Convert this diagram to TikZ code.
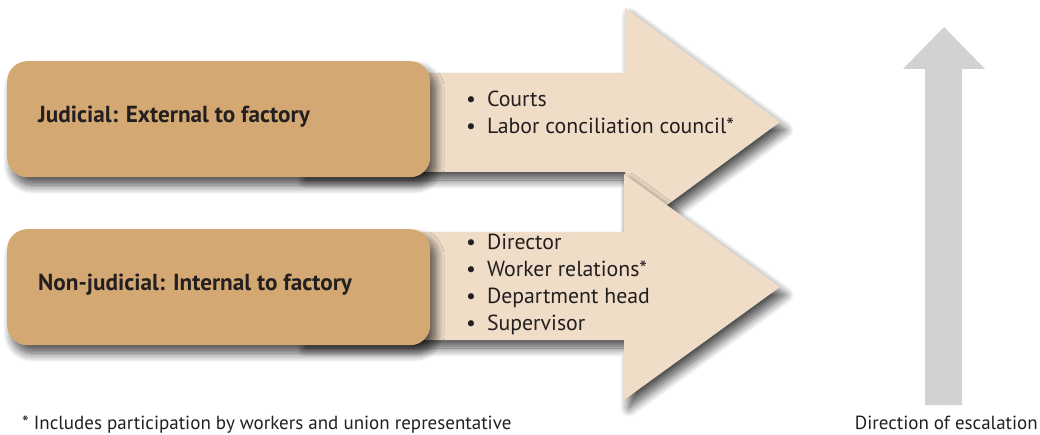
\documentclass[tikz,border=0pt]{standalone}
\usepackage{fontspec}
\setmainfont{PT Sans}
\usetikzlibrary{shadows.blur}
\definecolor{boxtan}{HTML}{D4A872}
\definecolor{arrowbeige}{HTML}{EFDDC7}
\definecolor{escgrey}{HTML}{D1D2D4}
\definecolor{txt}{HTML}{231F20}
\tikzset{
  shd/.style={blur shadow={shadow xshift=5pt, shadow yshift=-8pt, shadow blur steps=14, shadow blur radius=9pt, shadow opacity=70}},
  bigarrow/.style={fill=arrowbeige, shd},
  tanbox/.style={fill=boxtan, rounded corners=20pt, minimum width=423pt, minimum height=116pt, inner sep=0pt, shd},
  title/.style={text=txt, font=\fontsize{23.2}{28}\selectfont\bfseries, anchor=west, inner sep=0pt},
  listtxt/.style={text=txt, font=\fontsize{21.8}{27}\selectfont, align=left, anchor=north west, inner sep=0pt},
  note/.style={text=txt, font=\fontsize{19}{22}\selectfont, inner sep=0pt}
}
\newcommand{\itm}{\textbullet\hspace{11pt}}
\begin{document}
\begin{tikzpicture}[x=1pt,y=-1pt]
\useasboundingbox (0,0) rectangle (1040,435);
% upper arrow
\path[bigarrow] (300,73) -- (625,73) -- (625,8) -- (780,122) -- (625,236) -- (625,172) -- (300,172) -- cycle;
\node[tanbox, anchor=north west] (jud) at (7,61) {};
\node[title] (judt) at (38,117) {Judicial: External to factory};
% lower arrow
\path[bigarrow] (300,232) -- (624,232) -- (624,174) -- (780,287) -- (624,400) -- (624,340) -- (300,340) -- cycle;
\node[tanbox, anchor=north west] (non) at (7,229) {};
\node[title] (nont) at (38,285) {Non-judicial: Internal to factory};
% lists
\node[listtxt] (l1) at (466,91) {\itm Courts\\\itm Labor conciliation council*};
\node[listtxt] (l2) at (466,234) {\itm Director\\\itm Worker relations*\\\itm Department head\\\itm Supervisor};
% escalation arrow
\path[fill=escgrey] (925,405) -- (925,69) -- (903,69) -- (944,27) -- (985,69) -- (962,69) -- (962,405) -- cycle;
\node[note, anchor=base east] (esc) at (1038,429) {Direction of escalation};
\node[note, anchor=base west] (foot) at (22,429) {* Includes participation by workers and union representative};
\end{tikzpicture}
\end{document}
